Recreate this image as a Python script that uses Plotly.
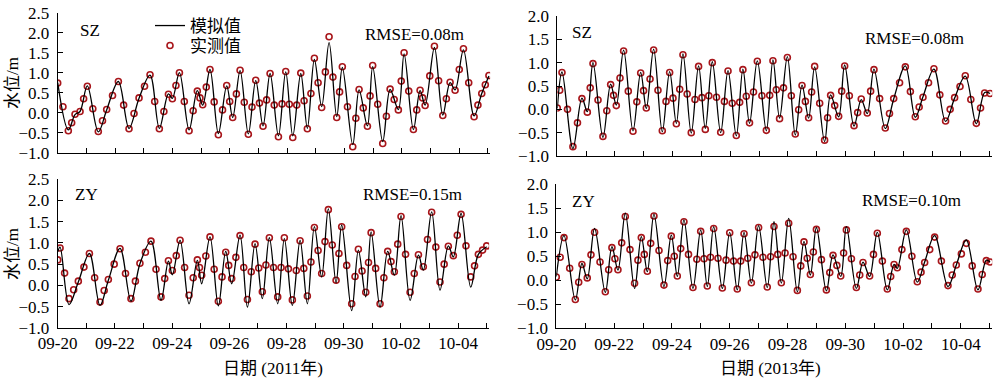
import plotly.graph_objects as go

# ---------------- data (hours since 09-20 00:00, water level in m) ----------------
# simulated (line): turning points of the model curve
tl_sim_hours = [0, 8.9, 14.5, 18.7, 24.8, 34.0, 41.0, 50.8, 59.7, 68.1, 77.3, 85.1, 92.7, 96.0, 101.9,
                110.0, 116.9, 121.4, 127.5, 134.5, 141.5, 146.5, 152.7, 159.6, 165.8, 171.9, 177.8,
                184.8, 190.9, 196.8, 203.5, 209.0, 214.9, 221.0, 227.2, 233.6, 238.3, 247.0, 252.3,
                259.3, 263.7, 272.1, 278.3, 285.2, 290.0, 297.8, 303.4, 307.6, 315.4, 322.4, 328.5,
                332.7, 339.7, 348.6, 355.0, 361.0]
tl_sim = [0.75, -0.43, -0.05, 0.03, 0.67, -0.48, 0.07, 0.78, -0.39, 0.36, 0.94, -0.39, 0.47, 0.36,
          1.00, -0.43, 0.55, 0.19, 1.08, -0.52, 0.67, -0.12, 1.05, -0.53, 0.80, -0.33, 0.98, -0.58,
          1.02, -0.58, 0.98, -0.39, 1.33, 0.15, 1.75, -0.10, 1.13, -0.80, 0.57, -0.33, 1.15, -0.72,
          0.58, 0.08, 1.47, -0.42, 0.55, 0.19, 1.63, -0.06, 0.75, 0.57, 1.57, -0.08, 0.48, 0.92]
# observed (markers)
tl_obs_hours = [0, 4.4, 8.9, 11.7, 14.5, 18.7, 21.7, 24.8, 29.4, 34.0, 37.5, 41.0, 45.9, 50.8, 55.2,
                59.7, 63.9, 68.1, 72.7, 77.3, 81.2, 85.1, 88.9, 92.7, 96.0, 99.0, 101.9, 106.0, 110.0,
                113.4, 116.9, 119.1, 121.4, 124.4, 127.5, 131.0, 134.5, 138.0, 141.5, 144.0, 146.5,
                149.6, 152.7, 156.2, 159.6, 162.7, 165.8, 168.9, 171.9, 174.9, 177.8, 181.3, 184.8,
                187.8, 190.9, 193.9, 196.8, 200.1, 203.5, 206.3, 209.0, 212.0, 214.9, 218.0, 221.0,
                224.1, 227.2, 230.4, 233.6, 236.0, 238.3, 242.6, 247.0, 249.6, 252.3, 255.8, 259.3,
                261.5, 263.7, 267.9, 272.1, 275.2, 278.3, 281.7, 285.2, 287.6, 290.0, 293.9, 297.8,
                300.6, 303.4, 305.5, 307.6, 311.5, 315.4, 318.9, 322.4, 325.4, 328.5, 332.7, 336.2,
                339.7, 344.1, 348.6, 351.8, 355.0, 358.0, 361.0]
tl_obs = [0.74, 0.15, -0.45, -0.25, -0.04, 0.03, 0.35, 0.66, 0.10, -0.47, -0.20, 0.08, 0.43, 0.78, 0.19,
          -0.40, -0.02, 0.37, 0.66, 0.95, 0.28, -0.40, 0.03, 0.46, 0.35, 0.68, 1.00, 0.28, -0.45,
          0.05, 0.54, 0.37, 0.20, 0.64, 1.08, 0.27, -0.55, 0.07, 0.68, 0.28, -0.12,
          0.47, 1.06, 0.26, -0.54, 0.14, 0.81, 0.24, -0.34, 0.32, 0.98, 0.19, -0.60,
          0.22, 1.03, 0.21, -0.62, 0.19, 0.99, 0.30, -0.40, 0.48, 1.36, 0.75, 0.13,
          1.02, 1.90, 0.89, -0.12, 0.52, 1.15, 0.15, -0.85, -0.14, 0.58, 0.12, -0.34,
          0.42, 1.18, 0.21, -0.77, -0.09, 0.59, 0.33, 0.07, 0.79, 1.50, 0.54, -0.42,
          0.07, 0.56, 0.37, 0.18, 0.92, 1.66, 0.80, -0.07, 0.35, 0.76, 0.56, 1.08,
          1.60, 0.75, -0.10, 0.19, 0.48, 0.70, 0.93]

tr_sim_hours = [0, 3.9, 13.0, 20.5, 25.0, 29.7, 38.0, 44.4, 49.1, 55.2, 63.0, 69.4, 74.1, 80.2, 87.4,
                93.5, 99.1, 104.6, 111.5, 117.6, 123.2, 129.0, 136.0, 142.1, 149.0, 154.5, 160.0,
                166.5, 174.0, 179.5, 185.0, 191.5, 198.1, 203.7, 209.2, 214.2, 222.5, 227.5, 234.2,
                239.2, 247.0, 253.0, 258.0, 263.6, 273.0, 280.0, 289.7, 298.0, 304.4, 313.5, 323.2,
                330.7, 339.6, 348.8, 355.7, 360.2]
tr_sim = [0.02, 0.80, -0.84, 0.24, -0.05, 1.00, -0.60, 0.54, 0.09, 1.27, -0.46, 0.79, 0.02, 1.29,
          -0.48, 0.81, -0.30, 1.19, -0.51, 0.93, -0.41, 1.02, -0.50, 0.83, -0.57, 0.86, -0.30, 1.04,
          -0.46, 1.06, -0.19, 1.13, -0.55, 0.52, -0.19, 0.91, -0.69, 0.31, -0.16, 0.95, -0.36, 0.21,
          -0.09, 0.86, -0.41, 0.22, 0.93, -0.17, 0.27, 0.86, -0.26, 0.24, 0.71, -0.31, 0.36, 0.34]
tr_obs_hours = [0, 2.0, 3.9, 8.5, 13.0, 16.8, 20.5, 25.0, 27.4, 29.7, 33.9, 38.0, 41.2, 44.4, 46.8,
                49.1, 52.2, 55.2, 59.1, 63.0, 66.2, 69.4, 71.8, 74.1, 77.2, 80.2, 83.8, 87.4, 90.5,
                93.5, 96.3, 99.1, 101.9, 104.6, 108.1, 111.5, 114.6, 117.6, 120.4, 123.2, 126.1,
                129.0, 132.5, 136.0, 139.1, 142.1, 145.6, 149.0, 151.8, 154.5, 157.3, 160.0, 163.3,
                166.5, 170.3, 174.0, 176.8, 179.5, 182.3, 185.0, 188.3, 191.5, 194.8, 198.1, 200.9,
                203.7, 206.5, 209.2, 211.7, 214.2, 218.4, 222.5, 225.0, 227.5, 230.9, 234.2, 236.7,
                239.2, 243.1, 247.0, 250.0, 253.0, 258.0, 260.8, 263.6, 268.3, 273.0, 276.5, 280.0,
                284.9, 289.7, 293.9, 298.0, 301.2, 304.4, 309.0, 313.5, 318.4, 323.2, 327.0, 330.7,
                335.2, 339.6, 344.2, 348.8, 352.3, 355.7, 360.2]
tr_obs = [0.03, 0.41, 0.79, 0.00, -0.80, -0.29, 0.23, -0.06, 0.46, 0.98, 0.20, -0.58, -0.03, 0.53, 0.30,
          0.08, 0.67, 1.25, 0.39, -0.47, 0.16, 0.78, 0.40, 0.03, 0.65, 1.27, 0.41, -0.46, 0.17,
          0.79, 0.24, -0.31, 0.43, 1.17, 0.33, -0.50, 0.21, 0.92, 0.25, -0.43, 0.29,
          1.00, 0.26, -0.49, 0.17, 0.82, 0.13, -0.56, 0.15, 0.85, 0.28, -0.29, 0.37,
          1.03, 0.29, -0.45, 0.30, 1.04, 0.42, -0.20, 0.46, 1.11, 0.29, -0.53, -0.01,
          0.51, 0.17, -0.18, 0.37, 0.92, 0.13, -0.66, -0.18, 0.30, 0.08, -0.15, 0.39,
          0.93, 0.29, -0.35, -0.07, 0.22, -0.08, 0.39, 0.85, 0.23, -0.40, -0.09, 0.23,
          0.57, 0.91, 0.38, -0.16, 0.05, 0.26, 0.57, 0.87, 0.31, -0.25, 0.00, 0.25,
          0.49, 0.72, 0.21, -0.30, 0.03, 0.35, 0.34]

bl_sim_hours = [0, 2.0, 9.5, 17.3, 26.6, 35.5, 42.5, 52.3, 61.5, 69.0, 78.3, 86.7, 92.9, 96.2, 102.7,
                110.2, 117.2, 120.8, 127.8, 134.8, 141.0, 146.0, 153.0, 159.2, 165.6, 171.7, 177.6,
                184.6, 190.2, 196.9, 203.4, 209.5, 215.4, 221.5, 227.1, 233.6, 238.3, 246.7, 252.3,
                258.5, 263.0, 270.5, 276.9, 282.5, 288.1, 295.7, 302.7, 306.8, 313.8, 320.8, 327.8,
                332.0, 338.5, 346.6, 353.0, 360.0]
bl_sim = [0.79, 0.90, -0.45, 0.08, 0.75, -0.47, 0.12, 0.87, -0.37, 0.51, 1.04, -0.35, 0.57, 0.25,
          1.06, -0.43, 0.59, 0.04, 1.14, -0.48, 0.80, 0.04, 1.18, -0.51, 0.98, -0.31, 1.12, -0.43,
          1.10, -0.47, 1.06, -0.43, 1.38, 0.20, 1.80, 0.06, 1.42, -0.59, 0.83, -0.27, 1.26, -0.51,
          0.80, 0.24, 1.64, -0.35, 0.71, 0.36, 1.73, -0.11, 0.93, 0.67, 1.69, -0.04, 0.73, 0.91]
bl_obs_hours = [0, 2.0, 5.8, 9.5, 13.4, 17.3, 22.0, 26.6, 31.0, 35.5, 39.0, 42.5, 47.4, 52.3, 56.9,
                61.5, 65.2, 69.0, 73.6, 78.3, 82.5, 86.7, 89.8, 92.9, 96.2, 99.5, 102.7, 106.5, 110.2,
                113.7, 117.2, 119.0, 120.8, 124.3, 127.8, 131.3, 134.8, 137.9, 141.0, 143.5, 146.0,
                149.5, 153.0, 156.1, 159.2, 162.4, 165.6, 168.7, 171.7, 174.7, 177.6, 181.1, 184.6,
                187.4, 190.2, 193.6, 196.9, 200.2, 203.4, 206.5, 209.5, 212.5, 215.4, 218.5, 221.5,
                224.3, 227.1, 230.4, 233.6, 236.0, 238.3, 242.5, 246.7, 249.5, 252.3, 255.4, 258.5,
                260.8, 263.0, 266.8, 270.5, 273.7, 276.9, 279.7, 282.5, 285.3, 288.1, 291.9, 295.7,
                299.2, 302.7, 306.8, 310.3, 313.8, 317.3, 320.8, 324.3, 327.8, 332.0, 335.3, 338.5,
                342.6, 346.6, 349.8, 353.0, 356.5, 360.0]
bl_obs = [0.60, 0.88, 0.29, -0.31, -0.10, 0.10, 0.43, 0.75, 0.18, -0.39, -0.12, 0.14, 0.50, 0.86, 0.28,
          -0.31, 0.10, 0.52, 0.78, 1.04, 0.38, -0.27, 0.16, 0.58, 0.35, 0.70, 1.06, 0.42, -0.23,
          0.18, 0.60, 0.42, 0.24, 0.69, 1.14, 0.38, -0.37, 0.20, 0.78, 0.47, 0.16,
          0.66, 1.17, 0.42, -0.33, 0.32, 0.97, 0.41, -0.15, 0.48, 1.12, 0.42, -0.27,
          0.42, 1.12, 0.39, -0.34, 0.35, 1.05, 0.40, -0.25, 0.55, 1.36, 0.82, 0.28,
          1.03, 1.78, 0.95, 0.12, 0.75, 1.38, 0.47, -0.43, 0.21, 0.85, 0.34, -0.16,
          0.54, 1.24, 0.40, -0.43, 0.18, 0.80, 0.56, 0.32, 0.97, 1.62, 0.73, -0.16,
          0.28, 0.72, 0.44, 1.08, 1.72, 0.90, 0.08, 0.50, 0.92, 0.70, 1.18, 1.67,
          0.93, 0.20, 0.46, 0.73, 0.83, 0.93]

br_sim_hours = [0, 6.4, 15.8, 21.3, 25.7, 31.8, 40.7, 46.2, 51.2, 57.3, 65.0, 70.6, 75.6, 81.1, 89.4,
                95.5, 100.5, 106.0, 113.5, 119.9, 125.4, 130.7, 137.9, 144.0, 150.3, 155.9, 162.0,
                168.0, 175.2, 180.8, 186.9, 193.0, 200.2, 205.7, 211.0, 216.0, 224.3, 229.8, 236.2,
                240.9, 249.2, 254.7, 260.2, 266.6, 274.9, 280.5, 283.2, 290.7, 299.8, 305.9, 314.2,
                325.3, 332.2, 340.5, 350.2, 357.1, 360.2]
br_sim = [0.08, 0.93, -0.41, 0.35, 0.03, 1.08, -0.25, 0.70, 0.21, 1.40, -0.17, 0.91, 0.18, 1.38,
          -0.13, 0.94, 0.08, 1.26, -0.17, 1.05, -0.13, 1.12, -0.17, 1.00, -0.20, 1.00, -0.06, 1.14,
          -0.15, 1.22, -0.06, 1.29, -0.24, 0.81, 0.11, 1.10, -0.22, 0.53, 0.08, 1.12, -0.17, 0.38,
          0.08, 1.00, -0.20, 0.33, 0.25, 1.05, -0.04, 0.38, 0.93, -0.13, 0.32, 0.84, -0.20, 0.42, 0.38]
br_obs_hours = [0, 3.2, 6.4, 11.1, 15.8, 18.6, 21.3, 25.7, 28.8, 31.8, 36.3, 40.7, 43.5, 46.2, 48.7,
                51.2, 54.3, 57.3, 61.2, 65.0, 67.8, 70.6, 73.1, 75.6, 78.4, 81.1, 85.3, 89.4, 92.5,
                95.5, 98.0, 100.5, 103.3, 106.0, 109.8, 113.5, 116.7, 119.9, 122.7, 125.4, 128.1,
                130.7, 134.3, 137.9, 141.0, 144.0, 147.2, 150.3, 153.1, 155.9, 159.0, 162.0, 165.0,
                168.0, 171.6, 175.2, 178.0, 180.8, 183.9, 186.9, 190.0, 193.0, 196.6, 200.2, 203.0,
                205.7, 208.4, 211.0, 213.5, 216.0, 220.2, 224.3, 227.1, 229.8, 233.0, 236.2, 238.6,
                240.9, 245.1, 249.2, 252.0, 254.7, 260.2, 263.4, 266.6, 270.8, 274.9, 277.7, 280.5,
                283.2, 287.0, 290.7, 295.3, 299.8, 302.9, 305.9, 310.1, 314.2, 319.8, 325.3, 328.8,
                332.2, 336.4, 340.5, 345.4, 350.2, 353.7, 357.1, 360.2]
br_obs = [0.07, 0.48, 0.89, 0.25, -0.40, -0.04, 0.33, 0.05, 0.53, 1.00, 0.38, -0.24, 0.22, 0.68, 0.45,
          0.22, 0.78, 1.33, 0.64, -0.06, 0.42, 0.89, 0.54, 0.19, 0.77, 1.34, 0.62, -0.10, 0.41,
          0.92, 0.50, 0.09, 0.66, 1.22, 0.54, -0.15, 0.44, 1.02, 0.45, -0.12, 0.48,
          1.08, 0.46, -0.16, 0.42, 0.99, 0.40, -0.18, 0.40, 0.97, 0.46, -0.05, 0.53,
          1.10, 0.48, -0.14, 0.49, 1.12, 0.54, -0.05, 0.57, 1.19, 0.49, -0.21, 0.30,
          0.80, 0.46, 0.12, 0.59, 1.06, 0.43, -0.20, 0.16, 0.52, 0.31, 0.09, 0.57,
          1.05, 0.45, -0.15, 0.11, 0.37, 0.09, 0.54, 0.98, 0.40, -0.18, 0.08, 0.33,
          0.26, 0.64, 1.02, 0.50, -0.03, 0.17, 0.37, 0.64, 0.90, 0.40, -0.11, 0.11,
          0.32, 0.55, 0.77, 0.30, -0.18, 0.12, 0.41, 0.38]

day_ticks = [0, 24, 48, 72, 96, 120, 144, 168, 192, 216, 240, 264, 288, 312, 336, 360]
day_labels = ["09-20", "", "09-22", "", "09-24", "", "09-26", "", "09-28", "", "09-30", "",
              "10-02", "", "10-04", ""]
station_names = ["SZ", "SZ", "ZY", "ZY"]
rmse_labels = ["RMSE=0.08m", "RMSE=0.08m", "RMSE=0.15m", "RMSE=0.10m"]
year_labels = ["日期 (2011年)", "日期 (2013年)"]
legend_names = ["模拟值", "实测值"]

# ---------------- figure ----------------
FONT = "Liberation Serif, Noto Sans CJK SC, serif"
RED = "#A8161B"
W, H = 1000, 380

panels = [
    dict(ts=tl_sim_hours, sim=tl_sim, to=tl_obs_hours, obs=tl_obs, px=(57.7, 490.1), py=(12.7, 152.7), yr=(-1, 2.5)),
    dict(ts=tr_sim_hours, sim=tr_sim, to=tr_obs_hours, obs=tr_obs, px=(557.3, 992.2), py=(16.0, 156.0), yr=(-1, 2.0)),
    dict(ts=bl_sim_hours, sim=bl_sim, to=bl_obs_hours, obs=bl_obs, px=(57.7, 489.1), py=(179.0, 328.0), yr=(-1, 2.5)),
    dict(ts=br_sim_hours, sim=br_sim, to=br_obs_hours, obs=br_obs, px=(556.3, 992.2), py=(184.3, 328.3), yr=(-1, 2.0)),
]

fig = go.Figure()
layout = {}
for i, p in enumerate(panels):
    n = "" if i == 0 else str(i + 1)
    xa, ya = "x" + n, "y" + n
    fig.add_trace(go.Scatter(
        x=p["to"], y=p["obs"], xaxis=xa, yaxis=ya, mode="markers", name=legend_names[1],
        marker=dict(symbol="circle-open", size=6, color=RED, line=dict(width=1.6, color=RED)),
        showlegend=(i == 0), legend="legend2"))
    fig.add_trace(go.Scatter(
        x=p["ts"], y=p["sim"], xaxis=xa, yaxis=ya, mode="lines", name=legend_names[0],
        line=dict(color="black", width=1.3, shape="spline", smoothing=1.0),
        showlegend=(i == 0), legend="legend"))
    bottom = i >= 2
    layout["xaxis" + n] = dict(
        domain=[p["px"][0] / W, p["px"][1] / W], anchor=ya, range=[0, 362], automargin=False,
        tickmode="array", tickvals=day_ticks, ticktext=day_labels, showticklabels=bottom,
        ticks="inside", ticklen=5, tickwidth=1, tickcolor="black",
        showline=True, linecolor="black", linewidth=1, showgrid=False, zeroline=False,
        tickfont=dict(family=FONT, size=17, color="black"))
    layout["yaxis" + n] = dict(
        domain=[1 - p["py"][1] / H, 1 - p["py"][0] / H], anchor=xa, range=list(p["yr"]),
        dtick=0.5, tick0=0, tickformat=".1f", automargin=False,
        ticks="inside", ticklen=5, tickwidth=1, tickcolor="black", ticklabelstandoff=4,
        showline=True, linecolor="black", linewidth=1, showgrid=False, zeroline=False,
        tickfont=dict(family=FONT, size=17, color="black"))

fig.update_layout(**layout)

ann = []
name_pos = [(78, 30), (570, 32), (73, 194), (570, 201)]
rmse_pos = [(414, 34), (914, 39), (412, 194), (911, 200)]
for k in range(4):
    ann.append(dict(x=name_pos[k][0] / W, y=1 - name_pos[k][1] / H, xref="paper", yref="paper",
                    text=station_names[k], showarrow=False, xanchor="left", yanchor="middle",
                    font=dict(family=FONT, size=17, color="black")))
    ann.append(dict(x=rmse_pos[k][0] / W, y=1 - rmse_pos[k][1] / H, xref="paper", yref="paper",
                    text=rmse_labels[k], showarrow=False, xanchor="center", yanchor="middle",
                    font=dict(family=FONT, size=17, color="black")))
for yc in (83, 254):
    ann.append(dict(x=12 / W, y=1 - yc / H, xref="paper", yref="paper", text="水位/m",
                    textangle=-90, showarrow=False, xanchor="center", yanchor="middle",
                    font=dict(family=FONT, size=17, color="black")))
for xc, txt in zip((273, 770), year_labels):
    ann.append(dict(x=xc / W, y=1 - 368 / H, xref="paper", yref="paper", text=txt,
                    showarrow=False, xanchor="center", yanchor="middle",
                    font=dict(family=FONT, size=17, color="black")))

leg_common = dict(xanchor="left", yanchor="middle", bgcolor="rgba(0,0,0,0)", itemwidth=30,
                  font=dict(family=FONT, size=17, color="black"))
fig.update_layout(
    width=W, height=H, margin=dict(l=0, r=0, t=0, b=0, autoexpand=False),
    paper_bgcolor="white", plot_bgcolor="white",
    annotations=ann,
    showlegend=True,
    legend=dict(x=150 / W, y=1 - 26 / H, **leg_common),
    legend2=dict(x=150 / W, y=1 - 46 / H, **leg_common),
)

# the page's default 8px body margin would shift the 1000x380 figure inside the window
fig.write_html("out.html", config={"displayModeBar": False},
               post_script="document.body.style.margin='0';document.body.style.overflow='hidden';")
